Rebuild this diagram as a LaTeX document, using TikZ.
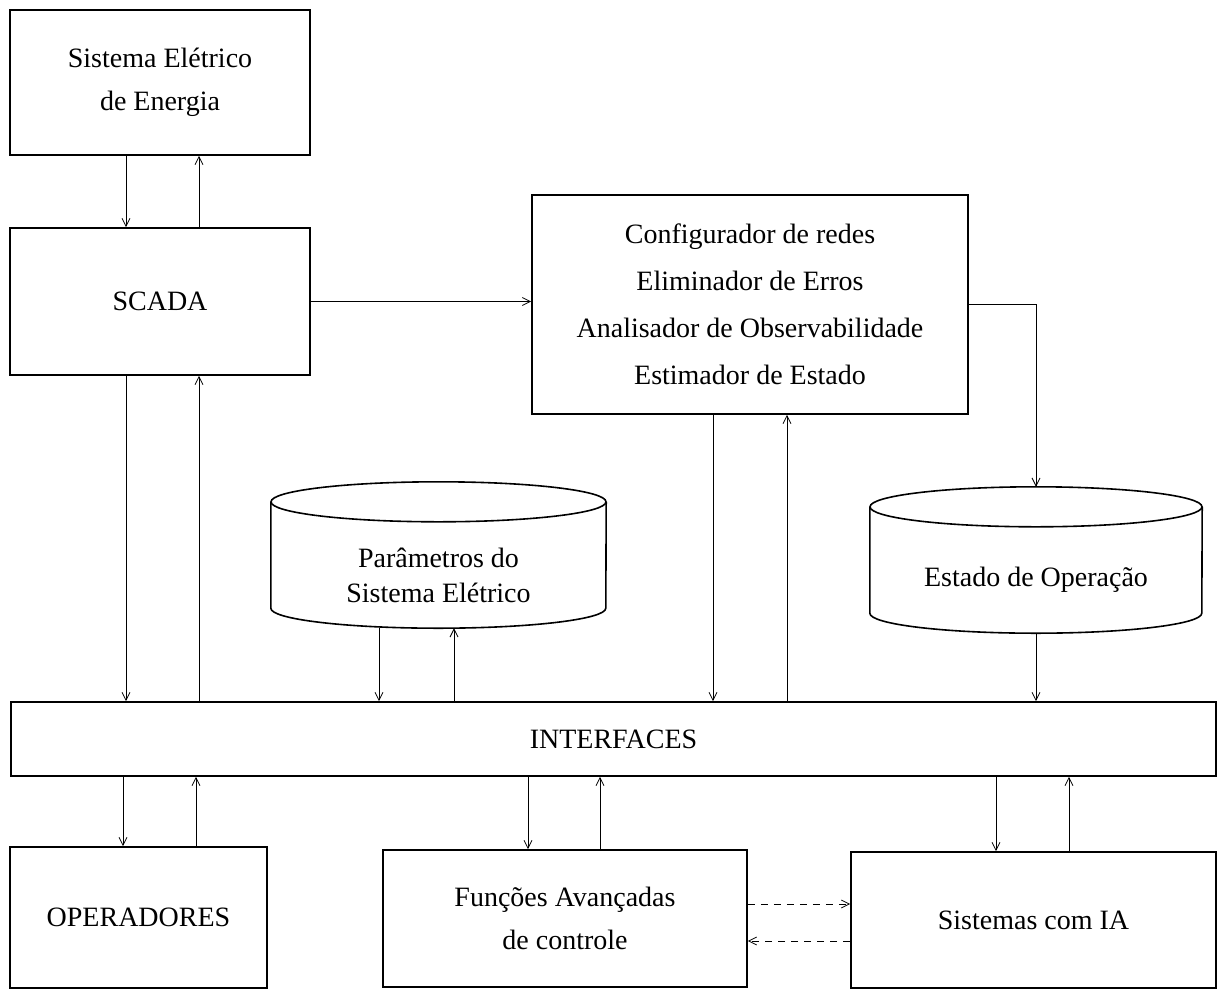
\documentclass[tikz,border=0pt]{standalone}
\usepackage{fontspec}
\setmainfont{Liberation Serif}
\usetikzlibrary{arrows.meta,positioning}
\tikzset{
boxline/.style={line width=1.6pt},
block/.style={draw,boxline,inner sep=0pt,align=center},
drum/.style={inner sep=0pt,align=center},
arr/.style={->,>={Straight Barb[length=8pt,width=8pt]},line width=0.8pt},
dasharr/.style={arr,dash pattern=on 7pt off 6pt},
}
\tikzstyle{every node}=[font=\fontsize{28}{43}\selectfont]
% outline of a drum round a node: node, x radius, y radius
\newcommand{\drumoutline}[3]{%
    \draw[boxline] ([yshift=#3]#1.north) ellipse [x radius=#2, y radius=#3];
    \draw[boxline] ([yshift=#3]#1.north west) -- ([yshift=#3]#1.south west)
        arc [start angle=180, end angle=360, x radius=#2, y radius=#3]
        -- ([yshift=#3]#1.north east);
}

\begin{document}
\begin{tikzpicture}[x=1pt,y=-1pt]
        \useasboundingbox (0,0) rectangle (1223,996);

        % blocks
        \node[block, minimum width=300pt, minimum height=145pt] (sistema) at (160,82.5) 
            {Sistema Elétrico\\de Energia};
        \node[block, minimum width=300pt, minimum height=147pt] (scada) at (160,301.5) {SCADA};
        \node[block, minimum width=436pt, minimum height=219pt, font=\fontsize{28}{47}\selectfont] 
            (config) at (750,304.5) 
            {Configurador de redes\\Eliminador de Erros\\Analisador de Observabilidade\\Estimador de Estado};
        \node[drum, minimum width=335pt, minimum height=106pt, font=\fontsize{28}{35}\selectfont] 
            (param) at (438.5,575) {Parâmetros do\\Sistema Elétrico};
        \node[drum, minimum width=332pt, minimum height=106pt] (estado) at (1036,580) 
            {Estado de Operação};
        \drumoutline{param}{167.5pt}{20pt}
        \drumoutline{estado}{166pt}{20pt}
        \node[block, minimum width=1205pt, minimum height=74pt] (inter) at (613.5,739) {INTERFACES};
        \node[block, minimum width=257pt, minimum height=141pt] (oper) at (138.5,917.5) {OPERADORES};
        \node[block, minimum width=364pt, minimum height=137pt] (funcoes) at (565,918.5) 
            {Funções Avançadas\\de controle};
        \node[block, minimum width=365pt, minimum height=136pt] (ia) at (1033.5,920) {Sistemas com IA};

        % upper connectors
        \draw[arr] ([xshift=-34pt]sistema.south) -- ([xshift=-34pt]scada.north);
        \draw[arr] ([xshift=39pt]scada.north) -- ([xshift=39pt]sistema.south);
        \draw[arr] (scada.east) -- (scada.east -| config.west);
        \draw[arr] (config.east) -| ([yshift=40pt]estado.north);

        % into and out of the interfaces
        \draw[arr] ([xshift=-34pt]scada.south) -- ([xshift=-34pt]scada.south |- inter.north);
        \draw[arr] ([xshift=39pt]scada.south |- inter.north) -- ([xshift=39pt]scada.south);
        \draw[arr] ([xshift=-59.5pt]param.south) -- ([xshift=-59.5pt]param.south |- inter.north);
        \draw[arr] ([xshift=15.5pt]param.south |- inter.north) -- ([xshift=15.5pt]param.south);
        \draw[arr] ([xshift=-37pt]config.south) -- ([xshift=-37pt]config.south |- inter.north);
        \draw[arr] ([xshift=37pt]config.south |- inter.north) -- ([xshift=37pt]config.south);
        \draw[arr] (estado.south) -- (estado.south |- inter.north);

        % lower connectors
        \draw[arr] ([xshift=-15.5pt]oper.north |- inter.south) -- ([xshift=-15.5pt]oper.north);
        \draw[arr] ([xshift=57.5pt]oper.north) -- ([xshift=57.5pt]oper.north |- inter.south);
        \draw[arr] ([xshift=-37pt]funcoes.north |- inter.south) -- ([xshift=-37pt]funcoes.north);
        \draw[arr] ([xshift=35pt]funcoes.north) -- ([xshift=35pt]funcoes.north |- inter.south);
        \draw[arr] ([xshift=-37.5pt]ia.north |- inter.south) -- ([xshift=-37.5pt]ia.north);
        \draw[arr] ([xshift=35.5pt]ia.north) -- ([xshift=35.5pt]ia.north |- inter.south);
        \draw[dasharr] ([yshift=14.5pt]funcoes.east) -- ([yshift=14.5pt]funcoes.east -| ia.west);
        \draw[dasharr] ([yshift=-22.5pt]funcoes.east -| ia.west) -- ([yshift=-22.5pt]funcoes.east);
    \end{tikzpicture}
\end{document}
